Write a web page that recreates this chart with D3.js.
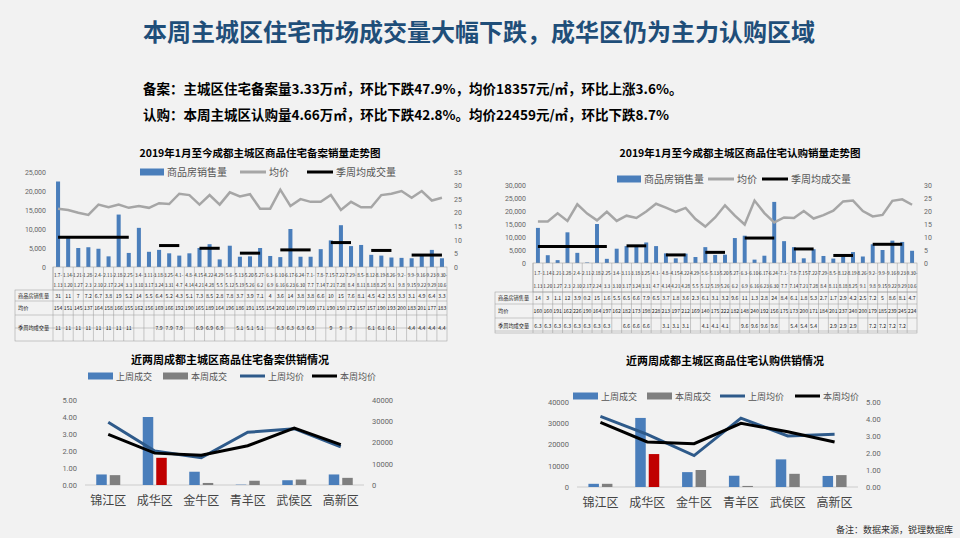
<!DOCTYPE html>
<html><head><meta charset="utf-8">
<script src="https://cdn.jsdelivr.net/npm/d3@7"></script>
<style>
body{margin:0;background:#f2f2f2;font-family:"Noto Sans CJK SC",sans-serif;}
svg{display:block;}
</style></head>
<body><svg id="c" width="960" height="538"></svg>
<script>
// 周期标签
var weekStart = ["1.7","1.14","1.21","1.28","2.4","2.11","2.18","2.25","3.4","3.11","3.18","3.25","4.1","4.8","4.15","4.22","4.29","5.6","5.13","5.20","5.27","6.3","6.10","6.17","6.24","7.1","7.8","7.15","7.22","7.29","8.5","8.12","8.19","8.26","9.2","9.9","9.16","9.23","9.30"];
var weekEnd = ["1.13","1.20","1.27","2.3","2.10","2.17","2.24","3.3","3.10","3.17","3.24","3.31","4.7","4.14","4.21","4.28","5.5","5.12","5.19","5.26","6.2","6.9","6.16","6.23","6.30","7.7","7.14","7.21","7.28","8.4","8.11","8.18","8.25","9.1","9.8","9.15","9.22","9.29","10.6"];

// 备案
var recSales = [22500,8000,5000,5200,4800,2800,13800,3700,10300,4000,4500,3600,3000,3600,5000,6000,2000,5600,2700,2800,5000,2900,2600,10000,2700,2700,4700,7000,11000,5500,5800,3200,3000,2500,2400,2300,3400,4500,2300];
var recPrice = [21.5,21,20,19.2,23,22,23,21.8,22.5,21.8,23.5,23.2,27,26.5,23,26.5,23,27.5,26,26.8,21.5,21.5,28.5,22.5,25,24,24,26.5,21,24,22,22,26.5,27,28,25.5,28,24.5,25.5];
var recSalesRow = ["31","11","7","7.2","6.7","3.8","19","5.2","14","5.5","6.4","5.2","4.3","5.1","7.3","8.5","2.8","7.8","3.7","3.9","7.1","4","3.6","14","3.8","3.8","6.6","10","15","7.6","8.1","4.5","4.2","3.5","3.3","3.1","4.9","6.4","3.3"];
var recPriceRow = ["154","151","145","137","164","158","166","155","162","156","169","166","192","190","165","189","164","196","186","191","155","154","202","160","179","169","171","190","150","172","157","157","190","193","200","183","201","177","183"];
var recSeason = [[0,7,11],[10,12,7.9],[14,16,6.9],[18,20,5.1],[22,25,6.3],[27,29,9],[31,33,6.1],[35,38,4.4]];

// 认购
var subSales = [13500,3000,1100,11800,3900,200,15000,1600,5500,6500,6600,7900,6500,3700,1800,3600,2300,6100,3100,3200,9600,10500,1300,2800,23500,8400,6100,1800,5300,2700,1700,2900,4200,2500,7200,5000,8600,8100,4700];
var subPriceRow = ["160","160","191","162","226","190","164","197","162","182","173","198","228","213","197","212","169","140","175","222","182","148","240","192","156","175","173","200","171","184","201","237","240","200","179","185","239","245","224"];
var subPrice = [16,16,19.1,16.2,22.6,19,16.4,19.7,16.2,18.2,17.3,19.8,22.8,21.3,19.7,21.2,16.9,14,17.5,22.2,18.2,14.8,24,19.2,15.6,17.5,17.3,20,17.1,18.4,20.1,23.7,24,20,17.9,18.5,23.9,24.5,22.4];
var subSalesRow = ["14","3","1.1","12","3.9","0.2","15","1.6","5.5","6.5","6.6","7.9","6.5","3.7","1.8","3.6","2.3","6.1","3.1","3.2","9.6","11","1.3","2.8","24","8.4","6.1","1.8","5.3","2.7","1.7","2.9","4.2","2.5","7.2","5","8.6","8.1","4.7"];
var subSeason = [[0,7,6.3],[9,11,6.6],[13,15,3.1],[17,19,4.1],[21,24,9.6],[26,28,5.4],[30,32,2.9],[34,37,7.2]];

// 区域
var districts = ["锦江区","成华区","金牛区","青羊区","武侯区","高新区"];
var recLastDeal = [0.62,4.0,0.78,0.02,0.28,0.62];
var recThisDeal = [0.58,1.6,0.12,0.25,0.32,0.42];
var recLastAvg = [29500,16000,12800,24800,26500,18000];
var recThisAvg = [23800,15000,14000,18500,26800,19000];
var subLastDeal = [1500,32500,7000,5300,13000,5200];
var subThisDeal = [1500,15500,8000,500,6200,5600];
var subLastAvg = [4.15,3.1,1.85,4.05,3.0,3.1];
var subThisAvg = [3.8,2.65,2.55,3.75,3.25,2.65];

var svg = d3.select("#c");
var BLUE = "#4a7ebb", GRAY = "#a6a6a6", DGRAY = "#7f7f7f", NAVY = "#2e5a8a";

svg.append("text").attr("x",143).attr("y",41).attr("font-size",24).attr("font-weight","bold")
  .attr("fill","#1f4e79").text("本周主城区住宅市场成交量大幅下跌，成华区仍为主力认购区域");
svg.append("text").attr("x",143).attr("y",94).attr("font-size",13.5).attr("font-weight","bold")
  .text("备案：主城区住宅备案量3.33万㎡，环比下跌47.9%，均价18357元/㎡，环比上涨3.6%。");
svg.append("text").attr("x",143).attr("y",120).attr("font-size",13.5).attr("font-weight","bold")
  .text("认购：本周主城区认购量4.66万㎡，环比下跌42.8%。均价22459元/㎡，环比下跌8.7%");
svg.append("text").attr("x",953).attr("y",533).attr("text-anchor","end").attr("font-size",9).attr("fill","#333")
  .text("备注：数据来源，锐理数据库");

function legend(g, items, y) {
  items.forEach(function (it) {
    if (it.type == "bar") g.append("rect").attr("x",it.x).attr("y",y-3.5).attr("width",it.w).attr("height",7).attr("fill",it.c);
    else g.append("line").attr("x1",it.x).attr("x2",it.x+it.w).attr("y1",y).attr("y2",y).attr("stroke",it.c).attr("stroke-width",3);
    g.append("text").attr("x",it.x+it.w+3).attr("y",y+4).attr("font-size",it.fs).attr("fill","#555").text(it.t);
  });
}

function trend(o) {
  var g = svg.append("g");
  var x = d3.scaleBand().domain(d3.range(weekStart.length)).range([o.x0,o.x1]).paddingInner(0.6).paddingOuter(0.3);
  var xc = d3.scaleBand().domain(d3.range(weekStart.length)).range([o.x0,o.x1]);
  var yl = d3.scaleLinear().domain([0,o.lmax]).range([o.base,o.top]);
  var yr = d3.scaleLinear().domain([0,o.rmax]).range([o.base,o.top]);
  g.append("text").attr("x",o.tx).attr("y",o.ty).attr("text-anchor","middle").attr("font-size",10.5).attr("font-weight","bold").text(o.title);
  legend(g, [{type:"bar",x:o.lx[0],w:24,c:BLUE,t:"商品房销售量",fs:10},{type:"line",x:o.lx[1],w:26,c:GRAY,t:"均价",fs:10},{type:"line",x:o.lx[2],w:26,c:"#000",t:"季周均成交量",fs:10}], o.ly);
  g.append("g").attr("transform","translate("+(o.x0-3)+",0)")
    .call(d3.axisLeft(yl).tickValues(d3.range(0,o.lmax+1,o.lstep)).tickSize(0).tickPadding(4))
    .call(function (a) { a.select(".domain").remove(); a.selectAll("text").attr("font-size",7).attr("fill","#666").attr("font-family","Roboto"); });
  g.append("g").attr("transform","translate("+(o.x1+3)+",0)")
    .call(d3.axisRight(yr).tickValues(d3.range(0,o.rmax+1,5)).tickSize(0).tickPadding(4))
    .call(function (a) { a.select(".domain").remove(); a.selectAll("text").attr("font-size",7).attr("fill","#666").attr("font-family","Roboto"); });
  g.selectAll(".b").data(o.sales).enter().append("rect")
    .attr("x",function (d,i) { return x(i); }).attr("width",x.bandwidth())
    .attr("y",function (d) { return yl(d); }).attr("height",function (d) { return o.base-yl(d); }).attr("fill",BLUE);
  g.append("path").datum(o.price).attr("fill","none").attr("stroke",GRAY).attr("stroke-width",2.5)
    .attr("d",d3.line().x(function (d,i) { return xc(i)+xc.bandwidth()/2; }).y(function (d) { return yr(d); }));
  o.season.forEach(function (s) {
    g.append("line").attr("x1",xc(s[0])+xc.bandwidth()/2).attr("x2",xc(s[1])+xc.bandwidth()/2)
      .attr("y1",yr(s[2])).attr("y2",yr(s[2])).attr("stroke","#000").attr("stroke-width",3);
  });
  // 表
  var t = g.append("g").attr("font-size",5.2).attr("fill","#222").attr("text-anchor","middle");
  var lines = "#999";
  var rowsY = o.rows, tb = o.tableBottom;
  t.append("rect").attr("x",o.x0).attr("y",o.base).attr("width",o.x1-o.x0).attr("height",rowsY[0]-o.base).attr("fill","none").attr("stroke",lines).attr("stroke-width",0.5);
  t.append("rect").attr("x",o.tx0).attr("y",rowsY[0]).attr("width",o.x1-o.tx0).attr("height",tb-rowsY[0]).attr("fill","none").attr("stroke",lines).attr("stroke-width",0.5);
  for (var r = 1; r < rowsY.length; r++)
    t.append("line").attr("x1",o.tx0).attr("x2",o.x1).attr("y1",rowsY[r]).attr("y2",rowsY[r]).attr("stroke",lines).attr("stroke-width",0.5);
  weekStart.forEach(function (w,i) {
    var cx = xc(i)+xc.bandwidth()/2;
    t.append("line").attr("x1",xc(i)).attr("x2",xc(i)).attr("y1",o.base).attr("y2",tb).attr("stroke",lines).attr("stroke-width",0.5);
    t.append("text").attr("x",cx).attr("y",o.base+(rowsY[0]-o.base)*0.35+2).attr("font-size",4.6).text(w+"-");
    t.append("text").attr("x",cx).attr("y",o.base+(rowsY[0]-o.base)*0.8+2).attr("font-size",4.6).text(weekEnd[i]);
    t.append("text").attr("x",cx).attr("y",(rowsY[0]+rowsY[1])/2+2).text(o.salesRow[i]);
    t.append("text").attr("x",cx).attr("y",(rowsY[1]+rowsY[2])/2+2).text(o.priceRow[i]);
  });
  o.season.forEach(function (s) {
    for (var i = s[0]; i <= s[1]; i++)
      t.append("text").attr("x",xc(i)+xc.bandwidth()/2).attr("y",(rowsY[2]+tb)/2+2).text(s[2]);
  });
  ["商品房销售量","均价","季周均成交量"].forEach(function (n,k) {
    var yy = k == 2 ? (rowsY[2]+tb)/2 : (rowsY[k]+rowsY[k+1])/2;
    t.append("text").attr("x",o.tx0+3).attr("y",yy+2).attr("text-anchor","start").text(n);
  });
}

trend({title:"2019年1月至今成都主城区商品住宅备案销量走势图",tx:260,ty:157,lx:[140,240,307],ly:172,
  x0:53,x1:447,tx0:15,base:267,top:172,lmax:25000,lstep:5000,rmax:35,
  rows:[290,301,315,328],tableBottom:341,
  sales:recSales,price:recPrice,season:recSeason,salesRow:recSalesRow,priceRow:recPriceRow});
trend({title:"2019年1月至今成都主城区商品住宅认购销量走势图",tx:740,ty:157,lx:[617,708,762],ly:179,
  x0:533,x1:917,tx0:495,base:263,top:185,lmax:30000,lstep:5000,rmax:30,
  rows:[292,304,318,331],tableBottom:333,
  sales:subSales,price:subPrice,season:subSeason,salesRow:subSalesRow,priceRow:subPriceRow});

function compare(o) {
  var g = svg.append("g");
  var x = d3.scaleBand().domain(districts).range([o.x0,o.x1]);
  var yl = d3.scaleLinear().domain([0,o.lmax]).range([o.base,o.top]);
  var yr = d3.scaleLinear().domain([0,o.rmax]).range([o.base,o.top]);
  g.append("text").attr("x",o.tx).attr("y",o.ty).attr("text-anchor","middle").attr("font-size",11).attr("font-weight","bold").text(o.title);
  legend(g, [{type:"bar",x:o.lx[0],w:25,c:BLUE,t:"上周成交",fs:9},{type:"bar",x:o.lx[1],w:25,c:DGRAY,t:"本周成交",fs:9},{type:"line",x:o.lx[2],w:25,c:NAVY,t:"上周均价",fs:9},{type:"line",x:o.lx[3],w:25,c:"#000",t:"本周均价",fs:9}], o.ly);
  g.append("g").attr("transform","translate("+(o.x0-6)+",0)")
    .call(d3.axisLeft(yl).ticks(5).tickFormat(o.lfmt).tickSize(0).tickPadding(2))
    .call(function (a) { a.select(".domain").remove(); a.selectAll("text").attr("font-size",7.5).attr("fill","#666").attr("font-family","Roboto"); });
  g.append("g").attr("transform","translate("+(o.x1+6)+",0)")
    .call(d3.axisRight(yr).ticks(5).tickFormat(o.rfmt).tickSize(0).tickPadding(2))
    .call(function (a) { a.select(".domain").remove(); a.selectAll("text").attr("font-size",7.5).attr("fill","#666").attr("font-family","Roboto"); });
  g.append("line").attr("x1",o.x0).attr("x2",o.x1).attr("y1",o.base).attr("y2",o.base).attr("stroke","#ccc");
  var bw = 10.5;
  districts.forEach(function (d,i) {
    var cx = x(d)+x.bandwidth()/2;
    g.append("rect").attr("x",cx-bw-1.5).attr("width",bw).attr("y",yl(o.last[i])).attr("height",o.base-yl(o.last[i])).attr("fill",BLUE);
    g.append("rect").attr("x",cx+1.5).attr("width",bw).attr("y",yl(o.now[i])).attr("height",o.base-yl(o.now[i])).attr("fill",i == 1 ? "#c00000" : DGRAY);
    g.append("text").attr("x",cx).attr("y",o.ly2).attr("text-anchor","middle").attr("font-size",12).attr("fill","#444").text(d);
  });
  var line = function (arr) { return d3.line().x(function (d,i) { return x(districts[i])+x.bandwidth()/2; }).y(function (d) { return yr(d); })(arr); };
  g.append("path").attr("d",line(o.lastAvg)).attr("fill","none").attr("stroke",NAVY).attr("stroke-width",3);
  g.append("path").attr("d",line(o.nowAvg)).attr("fill","none").attr("stroke","#000").attr("stroke-width",3);
}

compare({title:"近两周成都主城区商品住宅备案供销情况",tx:230,ty:364,lx:[88,163,240,312],ly:376,
  x0:85,x1:364,base:485,top:400,lmax:5,rmax:40000,lfmt:d3.format(".2f"),rfmt:d3.format("d"),ly2:505,
  last:recLastDeal,now:recThisDeal,lastAvg:recLastAvg,nowAvg:recThisAvg});
compare({title:"近两周成都主城区商品住宅认购供销情况",tx:725,ty:365,lx:[573,647,720,795],ly:396,
  x0:577,x1:858,base:487,top:402,lmax:40000,rmax:5,lfmt:d3.format("d"),rfmt:d3.format(".2f"),ly2:507,
  last:subLastDeal,now:subThisDeal,lastAvg:subLastAvg,nowAvg:subThisAvg});
</script></body></html>
